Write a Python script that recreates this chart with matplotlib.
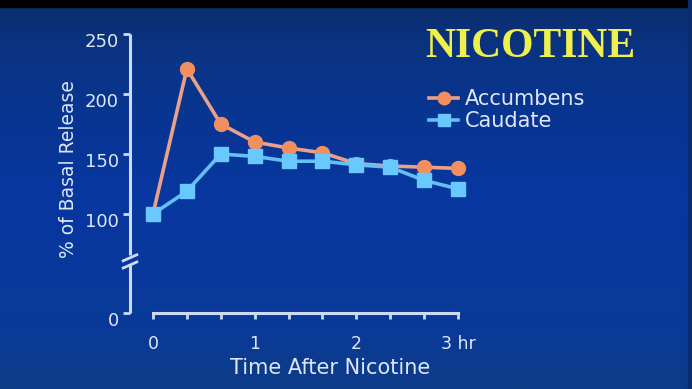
import numpy as np
import matplotlib
matplotlib.use("Agg")
import matplotlib.pyplot as plt
import matplotlib.transforms as mtransforms
from matplotlib.colors import LinearSegmentedColormap

# --- Data: % of basal release at each 20-min sample ---
TIME_HR = [0, 1/3, 2/3, 1, 4/3, 5/3, 2, 7/3, 8/3, 3]
ACCUMBENS = [100, 221, 175, 160, 155, 151, 142, 140, 139, 138]
CAUDATE = [100, 119, 150, 148, 144, 144, 141, 139, 128, 121]

Y_TICKS = [100, 150, 200, 250]
Y_TICK_LABELS = ["100", "150", "200", "250"]
Y_FLOOR = 17.5          # broken axis: "0" sits here
X_TICKS = [0, 1, 2, 3]
X_TICK_LABELS = ["0", "1", "2", "3 hr"]

W, H = 692, 389
TEXT = "#dde7f6"
AXIS = "#cddcf3"
ORANGE_LINE = "#e9a189"
ORANGE = "#f28f5f"
BLUE_LINE = "#63bff4"
BLUE = "#69c8fd"

fig = plt.figure(figsize=(W / 100, H / 100), dpi=100)

# --- slide background ---
bg = fig.add_axes([0, 0, 1, 1], zorder=-10)
grad = LinearSegmentedColormap.from_list(
    "slide", [(0.0, "#0b2d6c"), (0.15, "#0a3486"), (0.5, "#0737a0"),
              (0.85, "#0a3a98"), (1.0, "#0d3c88")])
bg.imshow(np.linspace(0, 1, 256).reshape(-1, 1), cmap=grad, aspect="auto",
          extent=[0, W, H, 0])
bg.axhspan(0, 7, color="black")
bg.axvspan(688, W, color="#092b6e")
bg.set_xlim(0, W)
bg.set_ylim(H, 0)
bg.axis("off")

# --- main chart ---
ax = fig.add_axes([130 / W, (H - 313) / H, 340 / W, 279 / H])
ax.patch.set_alpha(0)
ax.set_xlim(-0.226, 3.118)
ax.set_ylim(Y_FLOOR, 250)

ax.plot(TIME_HR, ACCUMBENS, color=ORANGE_LINE, lw=2.6, marker="o", ms=10,
        mfc=ORANGE, mec=ORANGE, label="Accumbens", clip_on=False, zorder=3)
ax.plot(TIME_HR, CAUDATE, color=BLUE_LINE, lw=2.6, marker="s", ms=10,
        mfc=BLUE, mec=BLUE, label="Caudate", clip_on=False, zorder=4)

for side in ["top", "right", "left"]:
    ax.spines[side].set_visible(False)
ax.spines["bottom"].set_bounds(0, 3)
ax.spines["bottom"].set_color(AXIS)
ax.spines["bottom"].set_linewidth(2.2)

# left axis drawn by hand so it can carry a break mark
yax = ax.get_yaxis_transform()
ax.plot([0, 0], [Y_FLOOR, 58], transform=yax, color=AXIS, lw=2.2,
        clip_on=False, solid_capstyle="butt")
ax.plot([0, 0], [66, 250], transform=yax, color=AXIS, lw=2.2,
        clip_on=False, solid_capstyle="butt")
for y0 in (55, 61):
    ax.plot([-0.02, 0.02], [y0, y0 + 5], transform=yax, color=AXIS, lw=2,
            clip_on=False)

ax.set_yticks([Y_FLOOR] + Y_TICKS)
ax.set_yticklabels(["0"] + Y_TICK_LABELS)
ax.set_xticks(X_TICKS)
ax.set_xticklabels(X_TICK_LABELS)
ax.set_xticks(TIME_HR, minor=True)
ax.tick_params(axis="y", direction="out", length=5, width=2, color=AXIS,
               labelcolor=TEXT, labelsize=13, pad=3)
ax.tick_params(axis="x", which="both", direction="out", length=4, width=2,
               color=AXIS, labelcolor=TEXT, labelsize=12.5, pad=12)

# y labels sit a little below their ticks
shift = mtransforms.ScaledTranslation(0, -0.06, fig.dpi_scale_trans)
for lbl in ax.get_yticklabels():
    lbl.set_transform(lbl.get_transform() + shift)

ax.set_xlabel("Time After Nicotine", color=TEXT, fontsize=15, va="center")
ax.xaxis.set_label_coords(0.588, -0.197)
ax.set_ylabel("% of Basal Release", color=TEXT, fontsize=13.5, va="center")
ax.yaxis.set_label_coords(-0.182, 0.516)

leg = ax.legend(loc="upper left", bbox_to_anchor=(429 / W, 1 - 89 / H),
                bbox_transform=fig.transFigure, frameon=False,
                handlelength=1.4, handletextpad=0.3, labelspacing=0.1,
                borderpad=0, borderaxespad=0, fontsize=15, markerscale=0.9)
for t in leg.get_texts():
    t.set_color(TEXT)

fig.text(530 / W, 1 - 47 / H, "NICOTINE", ha="center", va="center",
         family="Liberation Serif", weight="bold", fontsize=30,
         color="#f0f04c")

fig.savefig("out.png", dpi=100)
